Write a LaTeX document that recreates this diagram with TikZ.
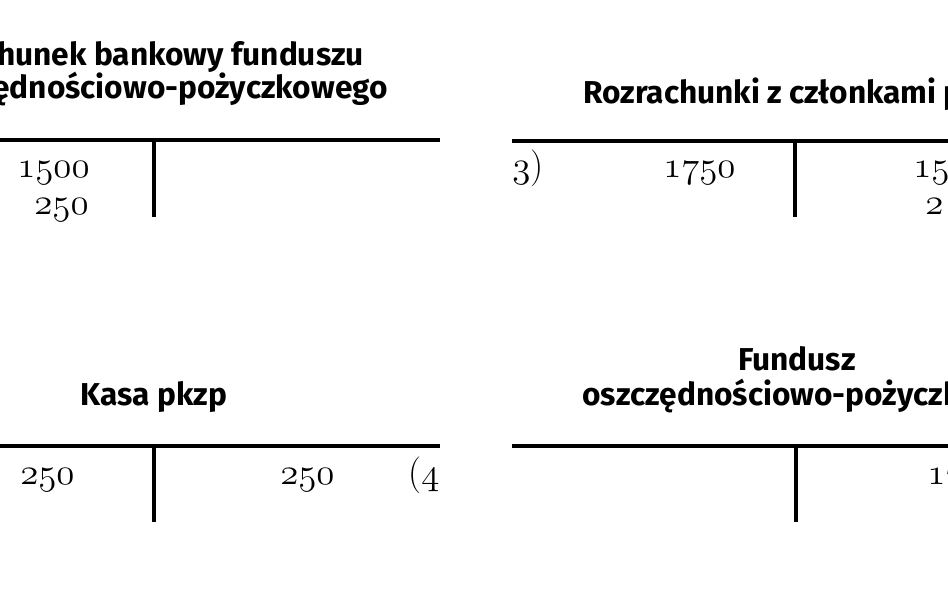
\RequirePackage{fix-cm}
\documentclass[tikz,border=0pt]{standalone}
\usepackage{fontspec}
\setsansfont{Fira Sans}
\usepackage{tikz}
\usetikzlibrary{positioning}
\newcommand{\osn}[1]{\ensuremath{\mathnormal{#1}}}
\tikzset{
    head/.style  ={inner sep=0pt, font=\sffamily\bfseries\fontsize{18}{21}\selectfont},
    amount/.style={inner sep=0pt, font=\fontsize{21}{24}\selectfont},
    tline/.style ={line width=2.8pt},
}

\begin{document}
\begin{tikzpicture}
    \useasboundingbox (0,0) rectangle (18.96,-11.86);
    \clip (0,0) rectangle (18.96,-11.86);
    % rachunek bankowy
    \node[head, anchor=base east] (rb1) at (7.28,-1.30) {hunek bankowy funduszu};
    \node[head, anchor=base east] (rb2) at (7.76,-1.96) {ędnościowo-pożyczkowego};
    \coordinate (rbL) at (0,-2.80);
    \coordinate (rbR) at (8.80,-2.80);
    \coordinate (rbT) at (3.08,-2.80);
    \coordinate (rbB) at (3.08,-4.34);
    \draw[tline] (rbL) -- (rbR);
    \draw[tline] (rbT) -- (rbB);
    \node[amount, anchor=base east] (rbw1) at (1.80,-3.54) {\osn{1500}};
    \node[amount, anchor=base east] (rbw2) at (1.78,-4.28) {\osn{250}};
    % rozrachunki
    \node[head, anchor=base west] (rz) at (11.66,-2.06) {Rozrachunki z członkami p};
    \coordinate (rzL) at (10.24,-2.82);
    \coordinate (rzR) at (18.96,-2.82);
    \coordinate (rzT) at (15.90,-2.82);
    \coordinate (rzB) at (15.90,-4.34);
    \draw[tline] (rzL) -- (rzR);
    \draw[tline] (rzT) -- (rzB);
    \node[amount, anchor=base west] (rzn) at (10.24,-3.54) {\osn{3})};
    \node[amount, anchor=base west] (rzw) at (13.26,-3.54) {\osn{1750}};
    \node[amount, anchor=base west] (rzm1) at (18.26,-3.54) {\osn{150}};
    \node[amount, anchor=base west] (rzm2) at (18.50,-4.28) {\osn{2}};
    % kasa
    \node[head, anchor=base] (ks) at (3.08,-8.10) {Kasa pkzp};
    \coordinate (ksL) at (0,-8.92);
    \coordinate (ksR) at (8.80,-8.92);
    \coordinate (ksT) at (3.08,-8.92);
    \coordinate (ksB) at (3.08,-10.44);
    \draw[tline] (ksL) -- (ksR);
    \draw[tline] (ksT) -- (ksB);
    \node[amount, anchor=base] (ksw) at (0.95,-9.68) {\osn{250}};
    \node[amount, anchor=base] (ksm) at (6.15,-9.68) {\osn{250}};
    \node[amount, anchor=base west] (ksn) at (8.16,-9.68) {(\osn{4}};
    % fundusz
    \node[head, anchor=base] (fo1) at (15.94,-7.40) {Fundusz};
    \node[head, anchor=base west] (fo2) at (11.64,-8.10) {oszczędnościowo-pożyczk};
    \coordinate (foL) at (10.24,-8.92);
    \coordinate (foR) at (18.96,-8.92);
    \coordinate (foT) at (15.92,-8.92);
    \coordinate (foB) at (15.92,-10.44);
    \draw[tline] (foL) -- (foR);
    \draw[tline] (foT) -- (foB);
    \node[amount, anchor=base west] (fom) at (18.54,-9.68) {\osn{17}};
\end{tikzpicture}
\end{document}
